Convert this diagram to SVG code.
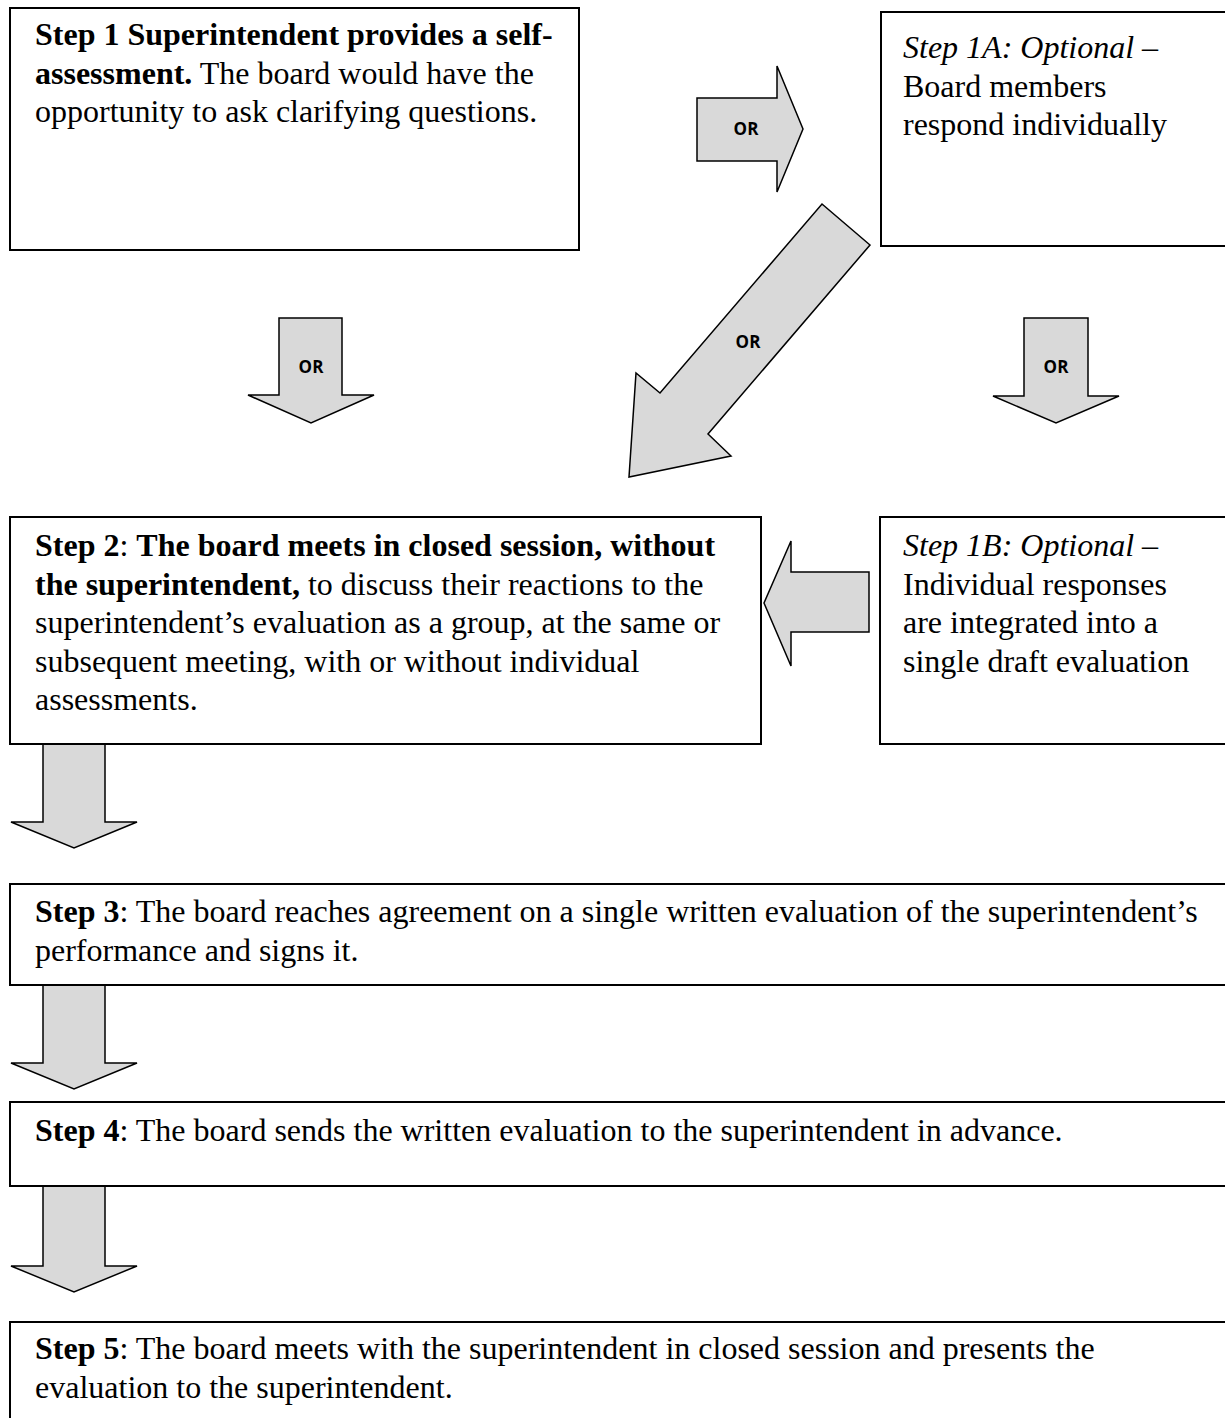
<svg xmlns="http://www.w3.org/2000/svg" width="1225" height="1418" viewBox="0 0 1225 1418">
<style>
.box{fill:#fff;stroke:#000;stroke-width:2}
.arr{fill:#d9d9d9;stroke:#000;stroke-width:1.5;stroke-linejoin:miter}
.t{font-family:"Liberation Serif","Times New Roman",serif;font-size:32px;fill:#000}
.b{font-weight:bold}
.i{font-style:italic}
.or{font-family:"Open Sans","Liberation Sans",sans-serif;font-size:17px;font-weight:bold;fill:#000;text-anchor:middle}
</style>
<rect width="1225" height="1418" fill="#fff"/>
<g id="connectors">
<polygon class="arr" points="697,98 777,98 777,66 803,129 777,192 777,161 697,161"/>
<text class="or" x="746" y="135">OR</text>
<polygon class="arr" points="822,204 870,245 708,434 731,456 629,477 636,373 660,393"/>
<text class="or" x="748" y="348">OR</text>
<polygon class="arr" points="279,318 342,318 342,395 374,395 311,423 248,395 279,395"/>
<text class="or" x="311" y="373">OR</text>
<polygon class="arr" points="1024,318 1088,318 1088,396 1119,396 1056,423 993,396 1024,396"/>
<text class="or" x="1056" y="373">OR</text>
<polygon class="arr" points="869,572 791,572 791,541 764,603 791,666 791,632 869,632"/>
<polygon class="arr" points="43,744 105,744 105,822 137,822 74,848 11,822 43,822"/>
<polygon class="arr" points="43,985 105,985 105,1063 137,1063 74,1089 11,1063 43,1063"/>
<polygon class="arr" points="43,1186 105,1186 105,1266 137,1266 74,1292 11,1266 43,1266"/>
</g>
<g id="step1">
<rect class="box" x="10" y="8" width="569" height="242"/>
<text class="t" x="35" y="45"><tspan class="b">Step 1 Superintendent provides a self-</tspan></text>
<text class="t" x="35" y="83.5"><tspan class="b">assessment.</tspan> The board would have the</text>
<text class="t" x="35" y="122">opportunity to ask clarifying questions.</text>
</g>
<g id="step1a">
<rect class="box" x="881" y="12" width="360" height="234"/>
<text class="t" x="903" y="58"><tspan class="i">Step 1A: Optional</tspan> –</text>
<text class="t" x="903" y="96.5">Board members</text>
<text class="t" x="903" y="135">respond individually</text>
</g>
<g id="step2">
<rect class="box" x="10" y="517" width="751" height="227"/>
<text class="t" x="35" y="556"><tspan class="b">Step 2</tspan>: <tspan class="b">The board meets in closed session, without</tspan></text>
<text class="t" x="35" y="594.5"><tspan class="b">the superintendent,</tspan> to discuss their reactions to the</text>
<text class="t" x="35" y="633">superintendent’s evaluation as a group, at the same or</text>
<text class="t" x="35" y="671.5">subsequent meeting, with or without individual</text>
<text class="t" x="35" y="710">assessments.</text>
</g>
<g id="step1b">
<rect class="box" x="880" y="517" width="360" height="227"/>
<text class="t" x="903" y="556"><tspan class="i">Step 1B: Optional</tspan> –</text>
<text class="t" x="903" y="594.5">Individual responses</text>
<text class="t" x="903" y="633">are integrated into a</text>
<text class="t" x="903" y="671.5">single draft evaluation</text>
</g>
<g id="step3">
<rect class="box" x="10" y="884" width="1230" height="101"/>
<text class="t" x="35" y="922"><tspan class="b">Step 3</tspan>: The board reaches agreement on a single written evaluation of the superintendent’s</text>
<text class="t" x="35" y="960.5">performance and signs it.</text>
</g>
<g id="step4">
<rect class="box" x="10" y="1102" width="1230" height="84"/>
<text class="t" x="35" y="1141"><tspan class="b">Step 4</tspan>: The board sends the written evaluation to the superintendent in advance.</text>
</g>
<g id="step5">
<rect class="box" x="10" y="1322" width="1230" height="110"/>
<text class="t" x="35" y="1359"><tspan class="b">Step 5</tspan>: The board meets with the superintendent in closed session and presents the</text>
<text class="t" x="35" y="1397.5">evaluation to the superintendent.</text>
</g>
</svg>
